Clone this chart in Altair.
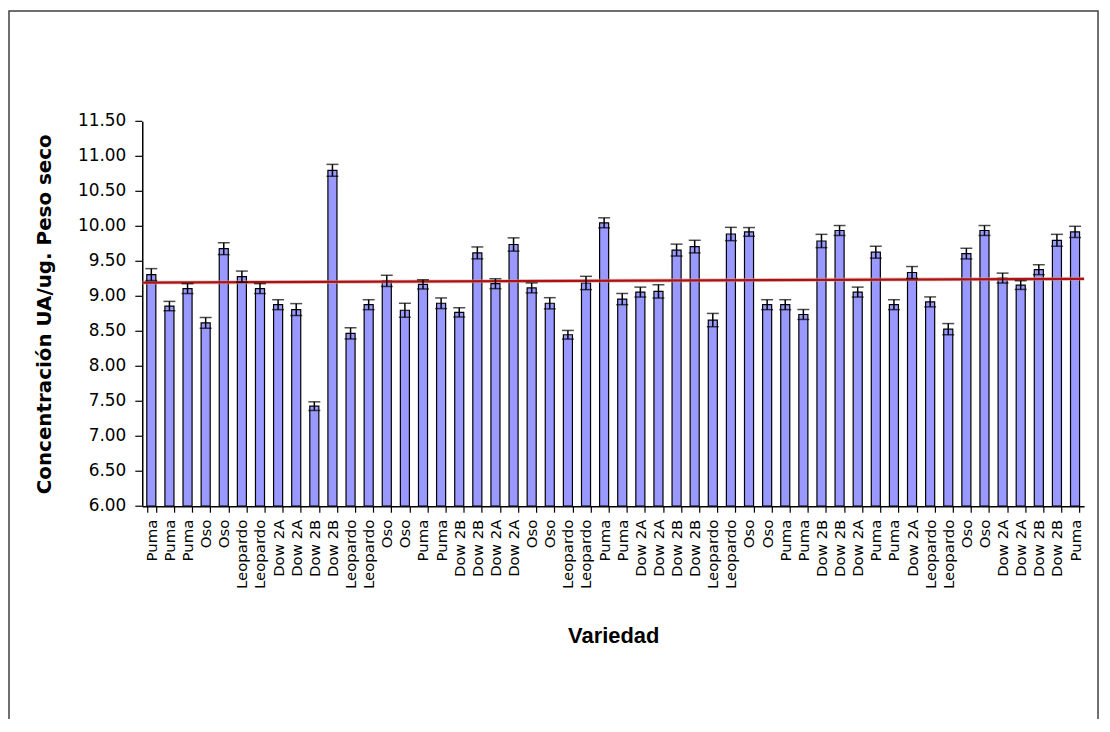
import altair as alt
import pandas as pd

labels = ["Puma", "Puma", "Puma", "Oso", "Oso", "Leopardo", "Leopardo", "Dow 2A", "Dow 2A",
          "Dow 2B", "Dow 2B", "Leopardo", "Leopardo", "Oso", "Oso", "Puma", "Puma",
          "Dow 2B", "Dow 2B", "Dow 2A", "Dow 2A", "Oso", "Oso", "Leopardo", "Leopardo",
          "Puma", "Puma", "Dow 2A", "Dow 2A", "Dow 2B", "Dow 2B", "Leopardo", "Leopardo",
          "Oso", "Oso", "Puma", "Puma", "Dow 2B", "Dow 2B", "Dow 2A", "Puma", "Puma",
          "Dow 2A", "Leopardo", "Leopardo", "Oso", "Oso", "Dow 2A", "Dow 2A", "Dow 2B",
          "Dow 2B", "Puma"]
values = [9.31, 8.86, 9.11, 8.62, 9.68, 9.28, 9.11, 8.88, 8.81, 7.43, 10.80, 8.47, 8.88,
          9.22, 8.80, 9.17, 8.90, 8.77, 9.62, 9.18, 9.74, 9.12, 8.90, 8.45, 9.19, 10.05,
          8.96, 9.06, 9.07, 9.66, 9.71, 8.66, 9.89, 9.92, 8.88, 8.88, 8.74, 9.79, 9.94,
          9.06, 9.63, 8.88, 9.34, 8.92, 8.53, 9.61, 9.94, 9.26, 9.16, 9.38, 9.80, 9.92]
errors = [0.085, 0.067, 0.071, 0.076, 0.085, 0.08, 0.071, 0.071, 0.085, 0.062, 0.085, 0.08,
          0.071, 0.08, 0.10, 0.066, 0.076, 0.066, 0.085, 0.071, 0.095, 0.071, 0.08, 0.062,
          0.095, 0.071, 0.08, 0.071, 0.095, 0.085, 0.09, 0.095, 0.095, 0.062, 0.071, 0.071,
          0.071, 0.095, 0.071, 0.071, 0.085, 0.071, 0.085, 0.071, 0.08, 0.076, 0.071,
          0.071, 0.062, 0.071, 0.085, 0.08]
trend_start = 9.195
trend_end = 9.25
y_ticks = [6.0, 6.5, 7.0, 7.5, 8.0, 8.5, 9.0, 9.5, 10.0, 10.5, 11.0, 11.5]
y_tick_labels = ["6.00", "6.50", "7.00", "7.50", "8.00", "8.50", "9.00", "9.50",
                 "10.00", "10.50", "11.00", "11.50"]

idx = list(range(1, len(values) + 1))
df = pd.DataFrame({
    "idx": idx,
    "label": labels,
    "value": values,
    "lo": [v - e for v, e in zip(values, errors)],
    "hi": [v + e for v, e in zip(values, errors)],
})
tick_df = pd.DataFrame({"t": y_ticks, "tl": y_tick_labels})

W, H = 947, 387
label_arr = "[" + ",".join("'" + l + "'" for l in labels) + "]"

xscale = alt.Scale(paddingInner=0.5, paddingOuter=0.25)
yscale = alt.Scale(domain=[6, 11.5], nice=False, zero=False)

x_axis = alt.Axis(
    labelExpr=label_arr + "[datum.value - 1]",
    labelAngle=270, labelAlign="right", labelBaseline="middle",
    labelFont="DejaVu Sans", labelFontSize=15, labelColor="#000",
    labelPadding=7, tickBand="extent", tickSize=6, tickColor="#000",
    domainColor="#000", domainWidth=1.5, tickWidth=1.2,
    titleFont="Liberation Sans", titleFontSize=22, titleFontWeight="bold",
    titleColor="#000", titleY=130, titleBaseline="middle",
    labelOverlap=False,
)
y_axis = alt.Axis(
    values=y_ticks, labels=False, ticks=False, grid=False,
    domainColor="#000", domainWidth=1.5,
    titleFont="DejaVu Sans", titleFontSize=20, titleFontWeight="bold",
    titleColor="#000", titleX=-98, titleY=H / 2, titleBaseline="middle",
    titleAngle=270,
)
X_TITLE = "Variedad"
Y_TITLE = "Concentración UA/ug. Peso seco"


def xenc():
    return alt.X("idx:O", scale=xscale, axis=x_axis, title=X_TITLE)


def yenc(field):
    return alt.Y(field, scale=yscale, axis=y_axis, title=Y_TITLE)


base = alt.Chart(df)

bars = base.mark_bar(color="#9999FF", stroke="#000", strokeWidth=1.2).encode(
    x=xenc(), y=yenc("value:Q"), y2=alt.datum(6)
)

err_line = base.mark_rule(color="#000", strokeWidth=1.5).encode(
    x=xenc(), y=yenc("lo:Q"), y2="hi:Q"
)
cap_hi = base.mark_tick(color="#000", size=12, thickness=1.5).encode(
    x=xenc(), y=yenc("hi:Q"))
cap_lo = base.mark_tick(color="#000", size=12, thickness=1.5).encode(
    x=xenc(), y=yenc("lo:Q"))

# y-axis tick marks and labels
ytick_marks = alt.Chart(tick_df).mark_rule(color="#000", strokeWidth=1.2, clip=False).encode(
    x=alt.value(-7), x2=alt.value(0), y=yenc("t:Q")
)
ytick_text = alt.Chart(tick_df).mark_text(
    align="right", baseline="middle", font="DejaVu Sans", fontSize=17, color="#000",
    clip=False
).encode(
    x=alt.value(-16), y=yenc("t:Q"), text="tl:N"
)

trend_df = pd.DataFrame({"y0": [trend_start], "y1": [trend_end]})
trend_shadow = alt.Chart(trend_df).mark_rule(color="#c8a0a0", strokeWidth=4, opacity=0.6).encode(
    x=alt.value(0), x2=alt.value(W), y=yenc("y0:Q"), y2="y1:Q"
)
trend = alt.Chart(trend_df).mark_rule(color="#B01010", strokeWidth=2.2).encode(
    x=alt.value(0), x2=alt.value(W), y=yenc("y0:Q"), y2="y1:Q"
)

frame = alt.Chart(trend_df).mark_rect(
    fill="transparent", stroke="#404040", strokeWidth=1.5, clip=False
).encode(
    x=alt.value(-134), x2=alt.value(961), y=alt.value(-111), y2=alt.value(720)
)

chart = alt.layer(
    bars, frame, ytick_marks, ytick_text, trend_shadow, trend, err_line, cap_hi, cap_lo
).resolve_scale(
    x="shared", y="shared"
).properties(
    width=W, height=H,
    autosize=alt.AutoSizeParams(type="none"),
    padding={"left": 135, "top": 112, "right": 18, "bottom": 212},
).configure_view(stroke="transparent")

chart.save("out.html", embed_options={"renderer": "svg", "actions": False})
